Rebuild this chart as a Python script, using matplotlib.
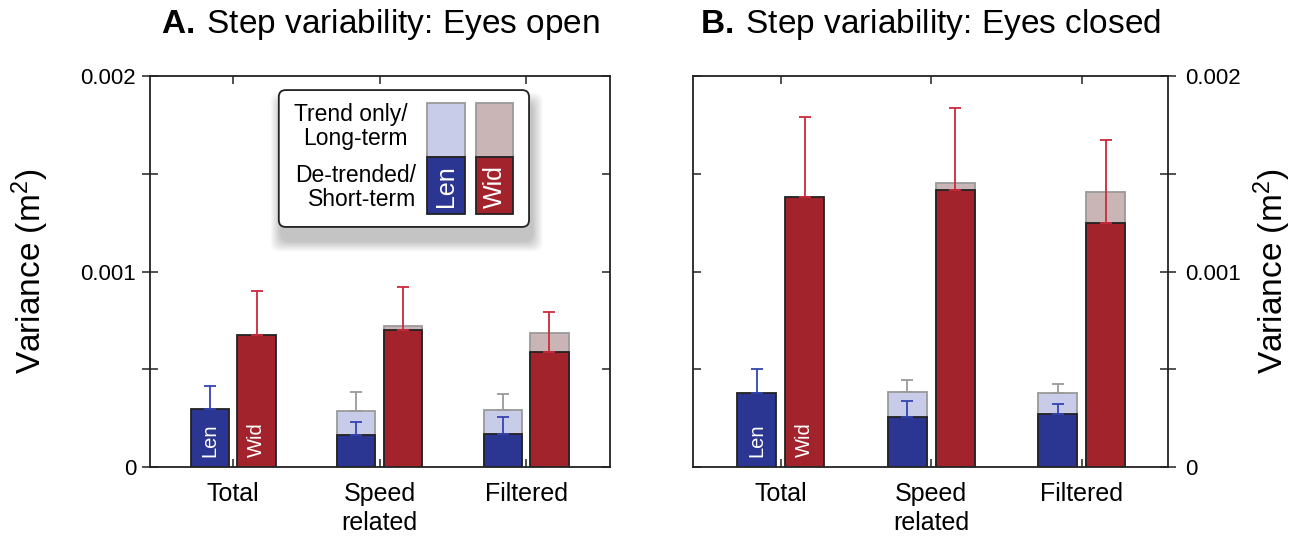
import numpy as np
import matplotlib
matplotlib.use("Agg")
import matplotlib.pyplot as plt
from matplotlib.patches import Rectangle, FancyBboxPatch

plt.rcParams['font.family'] = ['Liberation Sans', 'DejaVu Sans']
plt.rcParams['mathtext.fontset'] = 'custom'
plt.rcParams['mathtext.rm'] = 'Liberation Sans'
plt.rcParams['mathtext.bf'] = 'Liberation Sans:bold'
plt.rcParams['mathtext.it'] = 'Liberation Sans:italic'
plt.rcParams['mathtext.sf'] = 'Liberation Sans'

# ---------------- data ----------------
categories = ['Total', 'Speed\nrelated', 'Filtered']
nan = np.nan

# Panel A: eyes open
A_len_short = [0.000295, 0.000162, 0.000170]
A_len_short_err = [0.000119, 0.000067, 0.000086]
A_len_trend = [nan, 0.000288, 0.000293]
A_len_trend_err = [nan, 0.000096, 0.000080]
A_wid_short = [0.000677, 0.000700, 0.000588]
A_wid_short_err = [0.000223, 0.000219, 0.000203]
A_wid_trend = [nan, 0.000723, 0.000684]

# Panel B: eyes closed
B_len_short = [0.000380, 0.000254, 0.000271]
B_len_short_err = [0.000121, 0.000082, 0.000050]
B_len_trend = [nan, 0.000382, 0.000377]
B_len_trend_err = [nan, 0.000061, 0.000046]
B_wid_short = [0.001380, 0.001417, 0.001250]
B_wid_short_err = [0.000410, 0.000418, 0.000423]
B_wid_trend = [nan, 0.001453, 0.001405]

titles_bold = ['A.', 'B.']
titles_rest = ['Step variability: Eyes open', 'Step variability: Eyes closed']
ylabel = r'Variance (m$^2$)'
yticks = [0, 0.001, 0.002]
yticklabels = ['0', '0.001', '0.002']

# ---------------- style ----------------
C_LEN = '#2b3592'
C_WID = '#a2232c'
C_LEN_L = '#c9cce8'
C_WID_L = '#c9b5b5'
E_LEN = '#3344b0'
E_WID = '#cc2a3a'
E_GREY = '#9a9a9a'
EDGE_D = '#222222'
EDGE_L = '#9a9a9a'
W = 0.26
OFF = 0.16

fig = plt.figure(figsize=(13.03, 5.37), dpi=100)
axA = fig.add_axes([150/1303, 70/537, 460/1303, 391/537])
axB = fig.add_axes([693/1303, 70/537, 475/1303, 391/537])


def draw_panel(ax, len_s, len_se, len_t, len_te, wid_s, wid_se, wid_t):
    x = np.arange(1, len(categories) + 1)
    len_s = np.array(len_s); len_se = np.array(len_se)
    len_t = np.array(len_t); len_te = np.array(len_te)
    wid_s = np.array(wid_s); wid_se = np.array(wid_se)
    wid_t = np.array(wid_t)
    m = ~np.isnan(len_t)
    ax.bar(x[m] - OFF, len_t[m], W, color=C_LEN_L, edgecolor=EDGE_L, linewidth=1.3, zorder=2)
    ax.bar(x[m] + OFF, wid_t[m], W, color=C_WID_L, edgecolor=EDGE_L, linewidth=1.3, zorder=2)
    ax.bar(x - OFF, len_s, W, color=C_LEN, edgecolor=EDGE_D, linewidth=1.3, zorder=3)
    ax.bar(x + OFF, wid_s, W, color=C_WID, edgecolor=EDGE_D, linewidth=1.3, zorder=3)
    ax.errorbar(x[m] - OFF, len_t[m], yerr=[np.zeros(m.sum()), len_te[m]], fmt='none',
                ecolor=E_GREY, elinewidth=1.3, capsize=4, capthick=1.3, zorder=4)
    ax.errorbar(x - OFF, len_s, yerr=[np.zeros(len(x)), len_se], fmt='none',
                ecolor=E_LEN, elinewidth=1.3, capsize=4, capthick=1.3, zorder=5)
    ax.errorbar(x + OFF, wid_s, yerr=[np.zeros(len(x)), wid_se], fmt='none',
                ecolor=E_WID, elinewidth=1.3, capsize=4, capthick=1.3, zorder=5)
    ax.text(x[0] - OFF, 0.00005, 'Len', rotation=90, color='white', fontsize=14.5,
            ha='center', va='bottom', zorder=6)
    ax.text(x[0] + OFF, 0.00005, 'Wid', rotation=90, color='white', fontsize=14.5,
            ha='center', va='bottom', zorder=6)
    ax.set_ylim(0, 0.002)
    ax.set_xticks(x)
    ax.set_xticklabels(categories, fontsize=18, linespacing=1.25)
    ax.tick_params(axis='x', which='both', direction='in', top=True, bottom=True,
                   length=6, width=1.1, pad=11, color='#222222')
    ax.set_yticks(yticks)
    ax.set_yticks([0.0005, 0.0015], minor=True)
    for s in ax.spines.values():
        s.set_linewidth(1.3)
        s.set_color('#222222')


draw_panel(axA, A_len_short, A_len_short_err, A_len_trend, A_len_trend_err,
           A_wid_short, A_wid_short_err, A_wid_trend)
draw_panel(axB, B_len_short, B_len_short_err, B_len_trend, B_len_trend_err,
           B_wid_short, B_wid_short_err, B_wid_trend)
axA.set_xlim(0.433, 3.573)
axB.set_xlim(0.417, 3.573)

axA.set_yticklabels(yticklabels, fontsize=16)
axA.tick_params(axis='y', which='both', left=True, right=False, direction='inout',
                length=12, width=1.1, pad=4, color='#222222')
secA = axA.secondary_yaxis('right')
secA.set_yticks(yticks)
secA.set_yticks([0.0005, 0.0015], minor=True)
secA.tick_params(axis='y', which='both', direction='in', length=6, width=1.1,
                 labelright=False, color='#222222')
secA.spines['right'].set_visible(False)

axB.yaxis.tick_right()
axB.set_yticklabels(yticklabels, fontsize=16)
axB.tick_params(axis='y', which='both', left=False, right=True, direction='inout',
                length=12, width=1.1, pad=6, color='#222222')
secB = axB.secondary_yaxis('left')
secB.set_yticks(yticks)
secB.set_yticks([0.0005, 0.0015], minor=True)
secB.tick_params(axis='y', which='both', direction='in', length=6, width=1.1,
                 labelleft=False, color='#222222')
secB.spines['left'].set_visible(False)

for ax, tb, tr in [(axA, titles_bold[0], titles_rest[0]), (axB, titles_bold[1], titles_rest[1])]:
    ax.set_title(r'$\mathbf{' + tb + r'}$' + '\u2009' + tr, fontsize=24, pad=31)

fig.text(30/1303, 1 - 271/537, ylabel, rotation=90, fontsize=24, ha='center', va='center')
fig.text(1272/1303, 1 - 271/537, ylabel, rotation=90, fontsize=24, ha='center', va='center')

# ---------------- legend box (panel A) ----------------
ax = axA
bx0, by0, bx1, by1 = 0.280, 0.614, 0.824, 0.964
asp = 460 / 391
N = 12
for i in range(N):
    d = 0.002 * (N - i)
    sh = FancyBboxPatch((bx0 + 0.006 - d, by0 - 0.035 - d * asp),
                        bx1 - bx0 + 2 * d, by1 - by0 + 2 * d * asp,
                        boxstyle='round,pad=0,rounding_size=0.02', mutation_aspect=asp,
                        transform=ax.transAxes, facecolor='black', edgecolor='none',
                        alpha=0.02, zorder=7)
    ax.add_patch(sh)
box = FancyBboxPatch((bx0, by0), bx1 - bx0, by1 - by0,
                     boxstyle='round,pad=0,rounding_size=0.015', mutation_aspect=asp,
                     transform=ax.transAxes, facecolor='white', edgecolor='#222222',
                     linewidth=1.3, zorder=8)
ax.add_patch(box)
sw_y0, sw_ym, sw_y1 = 0.647, 0.793, 0.931
for (sx0, sx1, cl, cd, lab) in [(0.602, 0.685, C_LEN_L, C_LEN, 'Len'),
                                (0.709, 0.789, C_WID_L, C_WID, 'Wid')]:
    ax.add_patch(Rectangle((sx0, sw_ym), sx1 - sx0, sw_y1 - sw_ym, transform=ax.transAxes,
                           facecolor=cl, edgecolor=EDGE_L, linewidth=1.3, zorder=9))
    ax.add_patch(Rectangle((sx0, sw_y0), sx1 - sx0, sw_ym - sw_y0, transform=ax.transAxes,
                           facecolor=cd, edgecolor=EDGE_D, linewidth=1.3, zorder=10))
    ax.text((sx0 + sx1) / 2, 0.718, lab, rotation=90, color='white', fontsize=18,
            ha='center', va='center', transform=ax.transAxes, zorder=11)
ax.text(0.559, 0.870, 'Trend only/\nLong-term', ha='right', va='center', fontsize=16.5,
        linespacing=1.05, multialignment='right', transform=ax.transAxes, zorder=11)
ax.text(0.578, 0.714, 'De-trended/\nShort-term', ha='right', va='center', fontsize=16.5,
        linespacing=1.05, multialignment='right', transform=ax.transAxes, zorder=11)

fig.savefig('out.png', dpi=100)
